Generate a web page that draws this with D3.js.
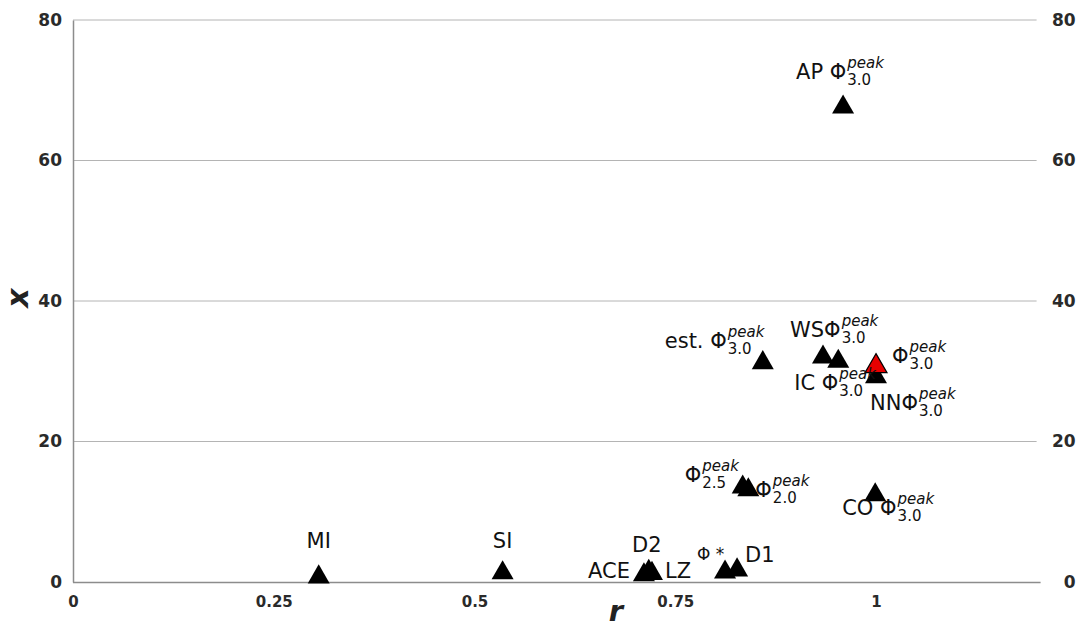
<!DOCTYPE html>
<html>
<head>
<meta charset="utf-8">
<script src="https://cdn.jsdelivr.net/npm/d3@7"></script>
<style>
  body { margin: 0; background: #fff; }
  text { font-family: "DejaVu Sans", sans-serif; }
</style>
</head>
<body>
<svg id="chart" width="1080" height="628"></svg>
<script>
// Methods compared: correlation r against score x
const methods   = ["MI", "SI", "ACE", "D2", "LZ", "Φ *", "D1", "", "", "CO", "est.", "WS", "IC", "", "NN", "AP"];
const peakIndex = [null, null, null, null, null, null, null, "2.5", "2.0", "3.0", "3.0", "3.0", "3.0", "3.0", "3.0", "3.0"];
const rValues   = [0.306, 0.535, 0.711, 0.717, 0.721, 0.812, 0.827, 0.834, 0.841, 0.999, 0.859, 0.934, 0.953, 1.0, 1.0, 0.959];
const xValues   = [0.7, 1.3, 1.0, 1.5, 1.2, 1.4, 1.7, 13.5, 13.1, 12.4, 31.2, 32.0, 31.4, 30.7, 29.2, 67.6];
const highlighted = 13;

const xTicks = [0, 0.25, 0.5, 0.75, 1];
const xTickLabels = ["0", "0.25", "0.5", "0.75", "1"];
const yTicks = [0, 20, 40, 60, 80];

// label placement relative to each marker (pixels)
const labelLayout = [
  {dx: 0, dy: -29, anchor: "middle"},
  {dx: 0, dy: -25, anchor: "middle"},
  {dx: -14, dy: 3, anchor: "end"},
  {dx: -2, dy: -19, anchor: "middle"},
  {dx: 13, dy: 4, anchor: "start"},
  {dx: -28, dy: -12, anchor: "start", small: true},
  {dx: 8, dy: -8, anchor: "start"},
  {dx: -58, dy: -5, anchor: "start"},
  {dx: 7, dy: 7, anchor: "start"},
  {dx: -33, dy: 20, anchor: "start", gap: true},
  {dx: -98, dy: -15, anchor: "start", gap: true},
  {dx: -33, dy: -20, anchor: "start"},
  {dx: -44, dy: 29, anchor: "start", gap: true},
  {dx: 16, dy: -3, anchor: "start"},
  {dx: -6, dy: 33, anchor: "start"},
  {dx: -47, dy: -28, anchor: "start", gap: true}
];

const svg = d3.select("#chart");
const plotLeft = 73, plotRight = 1036.6, plotTop = 20, plotBottom = 582;

const x = d3.scaleLinear().domain([0, 1.2]).range([plotLeft, plotRight]);
const y = d3.scaleLinear().domain([0, 80]).range([plotBottom, plotTop]);

// horizontal gridlines
svg.append("g").selectAll("line")
  .data(yTicks.filter(t => t > 0))
  .join("line")
  .attr("x1", plotLeft).attr("x2", plotRight)
  .attr("y1", d => y(d)).attr("y2", d => y(d))
  .attr("stroke", "#b4b4b4").attr("stroke-width", 1);

const tickFont = (g, size) => g.selectAll("text")
  .attr("font-family", "'Liberation Sans', Arial, sans-serif")
  .attr("font-weight", "bold")
  .attr("font-size", size)
  .attr("fill", "#2a2a2a");

// left axis
const yAxisL = svg.append("g")
  .attr("transform", `translate(${plotLeft},0)`)
  .call(d3.axisLeft(y).tickValues(yTicks).tickSize(0).tickPadding(11));
yAxisL.select(".domain").attr("stroke", "#8c8c8c").attr("stroke-width", 1.5);
tickFont(yAxisL, 17);

// right axis (labels only)
const yAxisR = svg.append("g")
  .attr("transform", `translate(${plotRight},0)`)
  .call(d3.axisRight(y).tickValues(yTicks).tickSize(0).tickPadding(39));
yAxisR.select(".domain").remove();
yAxisR.selectAll("text").attr("text-anchor", "end");
tickFont(yAxisR, 17);

// bottom axis
const xAxis = svg.append("g")
  .attr("transform", `translate(0,${plotBottom})`)
  .call(d3.axisBottom(x).tickValues(xTicks).tickSize(0).tickPadding(14)
    .tickFormat((d, i) => xTickLabels[i]));
xAxis.select(".domain").attr("stroke", "#8c8c8c").attr("stroke-width", 1.5)
  .attr("d", `M${plotLeft},0.5H${plotRight + 4}`);
tickFont(xAxis, 15);

// axis titles
svg.append("text")
  .attr("transform", `translate(28,298) rotate(-90)`)
  .attr("text-anchor", "middle")
  .attr("font-family", "'Liberation Sans', Arial, sans-serif")
  .attr("font-weight", "bold").attr("font-style", "italic")
  .attr("font-size", 30).attr("fill", "#222")
  .text("x");
svg.append("text")
  .attr("x", 616).attr("y", 621)
  .attr("text-anchor", "middle")
  .attr("font-family", "'Liberation Sans', Arial, sans-serif")
  .attr("font-weight", "bold").attr("font-style", "italic")
  .attr("font-size", 29).attr("fill", "#222")
  .text("r");

// markers
const tri = d3.symbol().type(d3.symbolTriangle).size(210);
const order = d3.range(methods.length).sort((a, b) => (a === highlighted) - (b === highlighted));
svg.append("g").selectAll("path")
  .data(order)
  .join("path")
  .attr("d", tri)
  .attr("transform", i => `translate(${x(rValues[i])},${y(xValues[i])})`)
  .attr("fill", i => i === highlighted ? "#e60000" : "#000")
  .attr("stroke", "#000")
  .attr("stroke-width", i => i === highlighted ? 1.2 : 0);

// labels: method name, then Φ with "peak" superscript and order subscript
const labelG = svg.append("g").attr("fill", "#111");
methods.forEach((m, i) => {
  const L = labelLayout[i];
  const px = x(rValues[i]) + L.dx, py = y(xValues[i]) + L.dy;
  const size = L.small ? 17 : 21;
  const hasPhi = peakIndex[i] !== null;
  const main = labelG.append("text")
    .attr("x", px).attr("y", py)
    .attr("font-size", size)
    .attr("text-anchor", L.anchor)
    .text(hasPhi ? m + (L.gap ? " " : "") + "Φ" : m);
  if (hasPhi) {
    const w = main.node().getComputedTextLength();
    const sx = px + w + 1;
    labelG.append("text")
      .attr("x", sx).attr("y", py - 11)
      .attr("font-size", 15).attr("font-style", "italic")
      .text("peak");
    labelG.append("text")
      .attr("x", sx).attr("y", py + 6)
      .attr("font-size", 15)
      .text(peakIndex[i]);
  }
});
</script>
</body>
</html>
